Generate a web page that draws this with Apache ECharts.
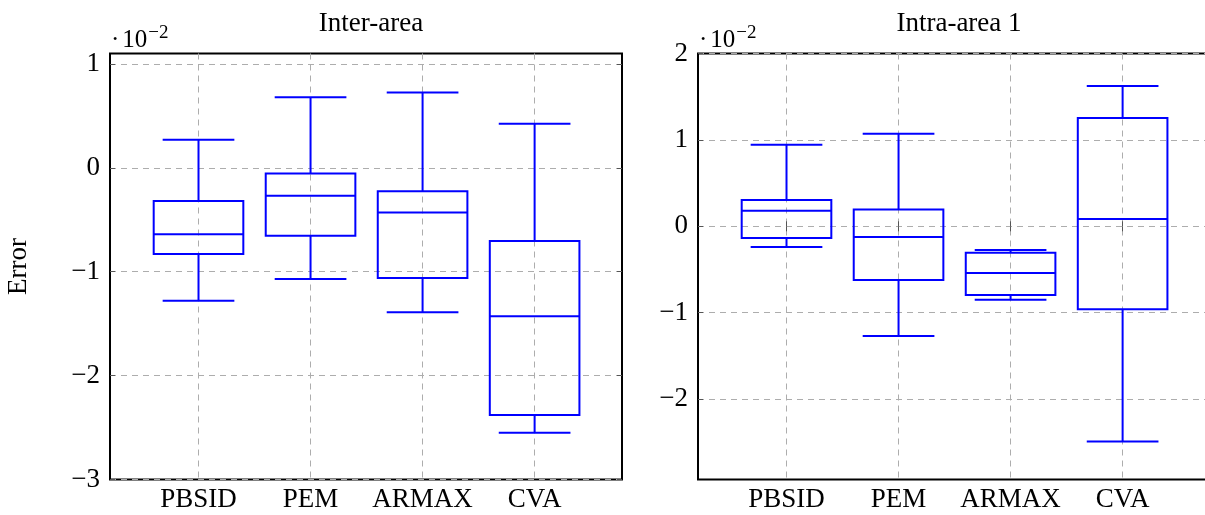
<!DOCTYPE html>
<html>
<head>
<meta charset="utf-8">
<script src="https://cdn.jsdelivr.net/npm/echarts@6/dist/echarts.min.js"></script>
<style>
  html, body { margin: 0; padding: 0; background: #ffffff; }
  #chart { width: 1205px; height: 515px; }
</style>
</head>
<body>
<div id="chart"></div>
<script>
// Identification methods compared in both panels
const methods = ['PBSID', 'PEM', 'ARMAX', 'CVA'];
const panelTitles = ['Inter-area', 'Intra-area 1'];

// Inter-area error statistics, in units of 10^-2
const interLow    = [-1.28, -1.07, -1.39, -2.55];
const interQ1     = [-0.83, -0.655, -1.06, -2.38];
const interMedian = [-0.64, -0.27, -0.43, -1.43];
const interQ3     = [-0.32, -0.055, -0.225, -0.705];
const interHigh   = [0.27, 0.68, 0.725, 0.425];

// Intra-area 1 error statistics, in units of 10^-2
const intraLow    = [-0.24, -1.27, -0.85, -2.49];
const intraQ1     = [-0.135, -0.62, -0.795, -0.96];
const intraMedian = [0.18, -0.125, -0.54, 0.085];
const intraQ3     = [0.305, 0.195, -0.305, 1.255];
const intraHigh   = [0.945, 1.07, -0.275, 1.625];

// Tick values of the value axes
const interTicks = [-3, -2, -1, 0, 1];
const intraTicks = [-2, -1, 0, 1, 2];
const methodPositions = [1, 2, 3, 4];

const FONT = 'Liberation Serif';
const BLUE = '#0000ff';
const GRID_DASH = { color: '#adadad', width: 1, type: [6, 5] };
const TICK_STYLE = { color: '#555555', width: 1 };

function fmtTick(v) {
  return v < 0 ? '\u2212' + Math.abs(v) : String(v);
}

function boxRows(low, q1, med, q3, high) {
  return methods.map((m, i) => [methodPositions[i], low[i], q1[i], med[i], q3[i], high[i]]);
}

// Box-and-whisker glyph: box spans 0.8 of the category step, whisker caps 0.64
function renderBox(params, api) {
  const x = api.value(0);
  const pLow = api.coord([x, api.value(1)]);
  const pQ1 = api.coord([x, api.value(2)]);
  const pMed = api.coord([x, api.value(3)]);
  const pQ3 = api.coord([x, api.value(4)]);
  const pHigh = api.coord([x, api.value(5)]);
  const boxW = api.size([0.8, 0])[0];
  const capW = api.size([0.64, 0])[0];
  const cx = pMed[0];
  const style = { stroke: BLUE, lineWidth: 2, fill: null };
  const line = (x1, y1, x2, y2) => ({ type: 'line', shape: { x1, y1, x2, y2 }, style });
  return {
    type: 'group',
    children: [
      line(cx, pQ3[1], cx, pHigh[1]),
      line(cx, pQ1[1], cx, pLow[1]),
      line(cx - capW / 2, pHigh[1], cx + capW / 2, pHigh[1]),
      line(cx - capW / 2, pLow[1], cx + capW / 2, pLow[1]),
      { type: 'rect', shape: { x: cx - boxW / 2, y: pQ3[1], width: boxW, height: pQ1[1] - pQ3[1] }, style },
      line(cx - boxW / 2, pMed[1], cx + boxW / 2, pMed[1])
    ]
  };
}

const X_MIN = 0.21, X_MAX = 4.78;

function xAxesFor(gridIndex) {
  return [
    {
      type: 'value', gridIndex, position: 'bottom', min: X_MIN, max: X_MAX,
      axisLine: { show: false },
      axisTick: { show: true, inside: true, length: 5, lineStyle: TICK_STYLE, customValues: methodPositions },
      axisLabel: {
        customValues: methodPositions, margin: 7,
        formatter: v => methods[Math.round(v) - 1],
        fontFamily: FONT, fontSize: 27, color: '#000'
      },
      splitLine: { show: true, lineStyle: GRID_DASH }
    },
    {
      type: 'value', gridIndex, position: 'top', min: X_MIN, max: X_MAX,
      axisLine: { show: false },
      axisTick: { show: true, inside: true, length: 5, lineStyle: TICK_STYLE, customValues: methodPositions },
      axisLabel: { show: false },
      splitLine: { show: false }
    }
  ];
}

function yAxesFor(gridIndex, min, max, ticks) {
  return [
    {
      type: 'value', gridIndex, position: 'left', min, max,
      name: '{d|\u00b7}{a|10}{b|\u22122}',
      nameLocation: 'end', nameGap: -3,
      nameTextStyle: {
        align: 'left', verticalAlign: 'bottom',
        rich: {
          d: { fontFamily: FONT, fontSize: 25, color: '#000', padding: [0, 3, 0, 1] },
          a: { fontFamily: FONT, fontSize: 25, color: '#000' },
          b: { fontFamily: FONT, fontSize: 19, color: '#000', padding: [0, 0, 14, 1] }
        }
      },
      axisLine: { show: false },
      axisTick: { show: true, inside: true, length: 5, lineStyle: TICK_STYLE, customValues: ticks },
      axisLabel: {
        customValues: ticks, margin: 10, formatter: fmtTick,
        fontFamily: FONT, fontSize: 27, color: '#000'
      },
      splitLine: { show: true, lineStyle: GRID_DASH }
    },
    {
      type: 'value', gridIndex, position: 'right', min, max,
      axisLine: { show: false },
      axisTick: { show: true, inside: true, length: 5, lineStyle: TICK_STYLE, customValues: ticks },
      axisLabel: { show: false },
      splitLine: { show: false }
    }
  ];
}

const gridBase = {
  top: 53.5, height: 426, width: 512,
  show: true, borderColor: '#000', borderWidth: 2, backgroundColor: 'transparent',
  containLabel: false, outerBoundsMode: 'none'
};

const option = {
  backgroundColor: '#ffffff',
  animation: false,
  title: [
    { text: panelTitles[0], left: 366, top: 5, textAlign: 'center',
      textStyle: { fontFamily: FONT, fontSize: 27, fontWeight: 'normal', color: '#000' } },
    { text: panelTitles[1], left: 954, top: 5, textAlign: 'center',
      textStyle: { fontFamily: FONT, fontSize: 27, fontWeight: 'normal', color: '#000' } }
  ],
  grid: [
    Object.assign({ left: 110 }, gridBase),
    Object.assign({ left: 698 }, gridBase)
  ],
  xAxis: [...xAxesFor(0), ...xAxesFor(1)],
  yAxis: [...yAxesFor(0, -3, 1.1, interTicks), ...yAxesFor(1, -2.93, 2, intraTicks)],
  graphic: [
    { type: 'text', x: 19, y: 266.5, rotation: Math.PI / 2,
      style: { text: 'Error', fontFamily: FONT, fontSize: 27, fill: '#000', align: 'center', verticalAlign: 'middle' } }
  ],
  series: [
    {
      type: 'custom', name: panelTitles[0], xAxisIndex: 0, yAxisIndex: 0,
      renderItem: renderBox, encode: { x: 0, y: [1, 2, 3, 4, 5] },
      data: boxRows(interLow, interQ1, interMedian, interQ3, interHigh), z: 5
    },
    {
      type: 'custom', name: panelTitles[1], xAxisIndex: 2, yAxisIndex: 2,
      renderItem: renderBox, encode: { x: 0, y: [1, 2, 3, 4, 5] },
      data: boxRows(intraLow, intraQ1, intraMedian, intraQ3, intraHigh), z: 5
    }
  ]
};

const chart = echarts.init(document.getElementById('chart'), null, { renderer: 'canvas' });
chart.setOption(option);
</script>
</body>
</html>
